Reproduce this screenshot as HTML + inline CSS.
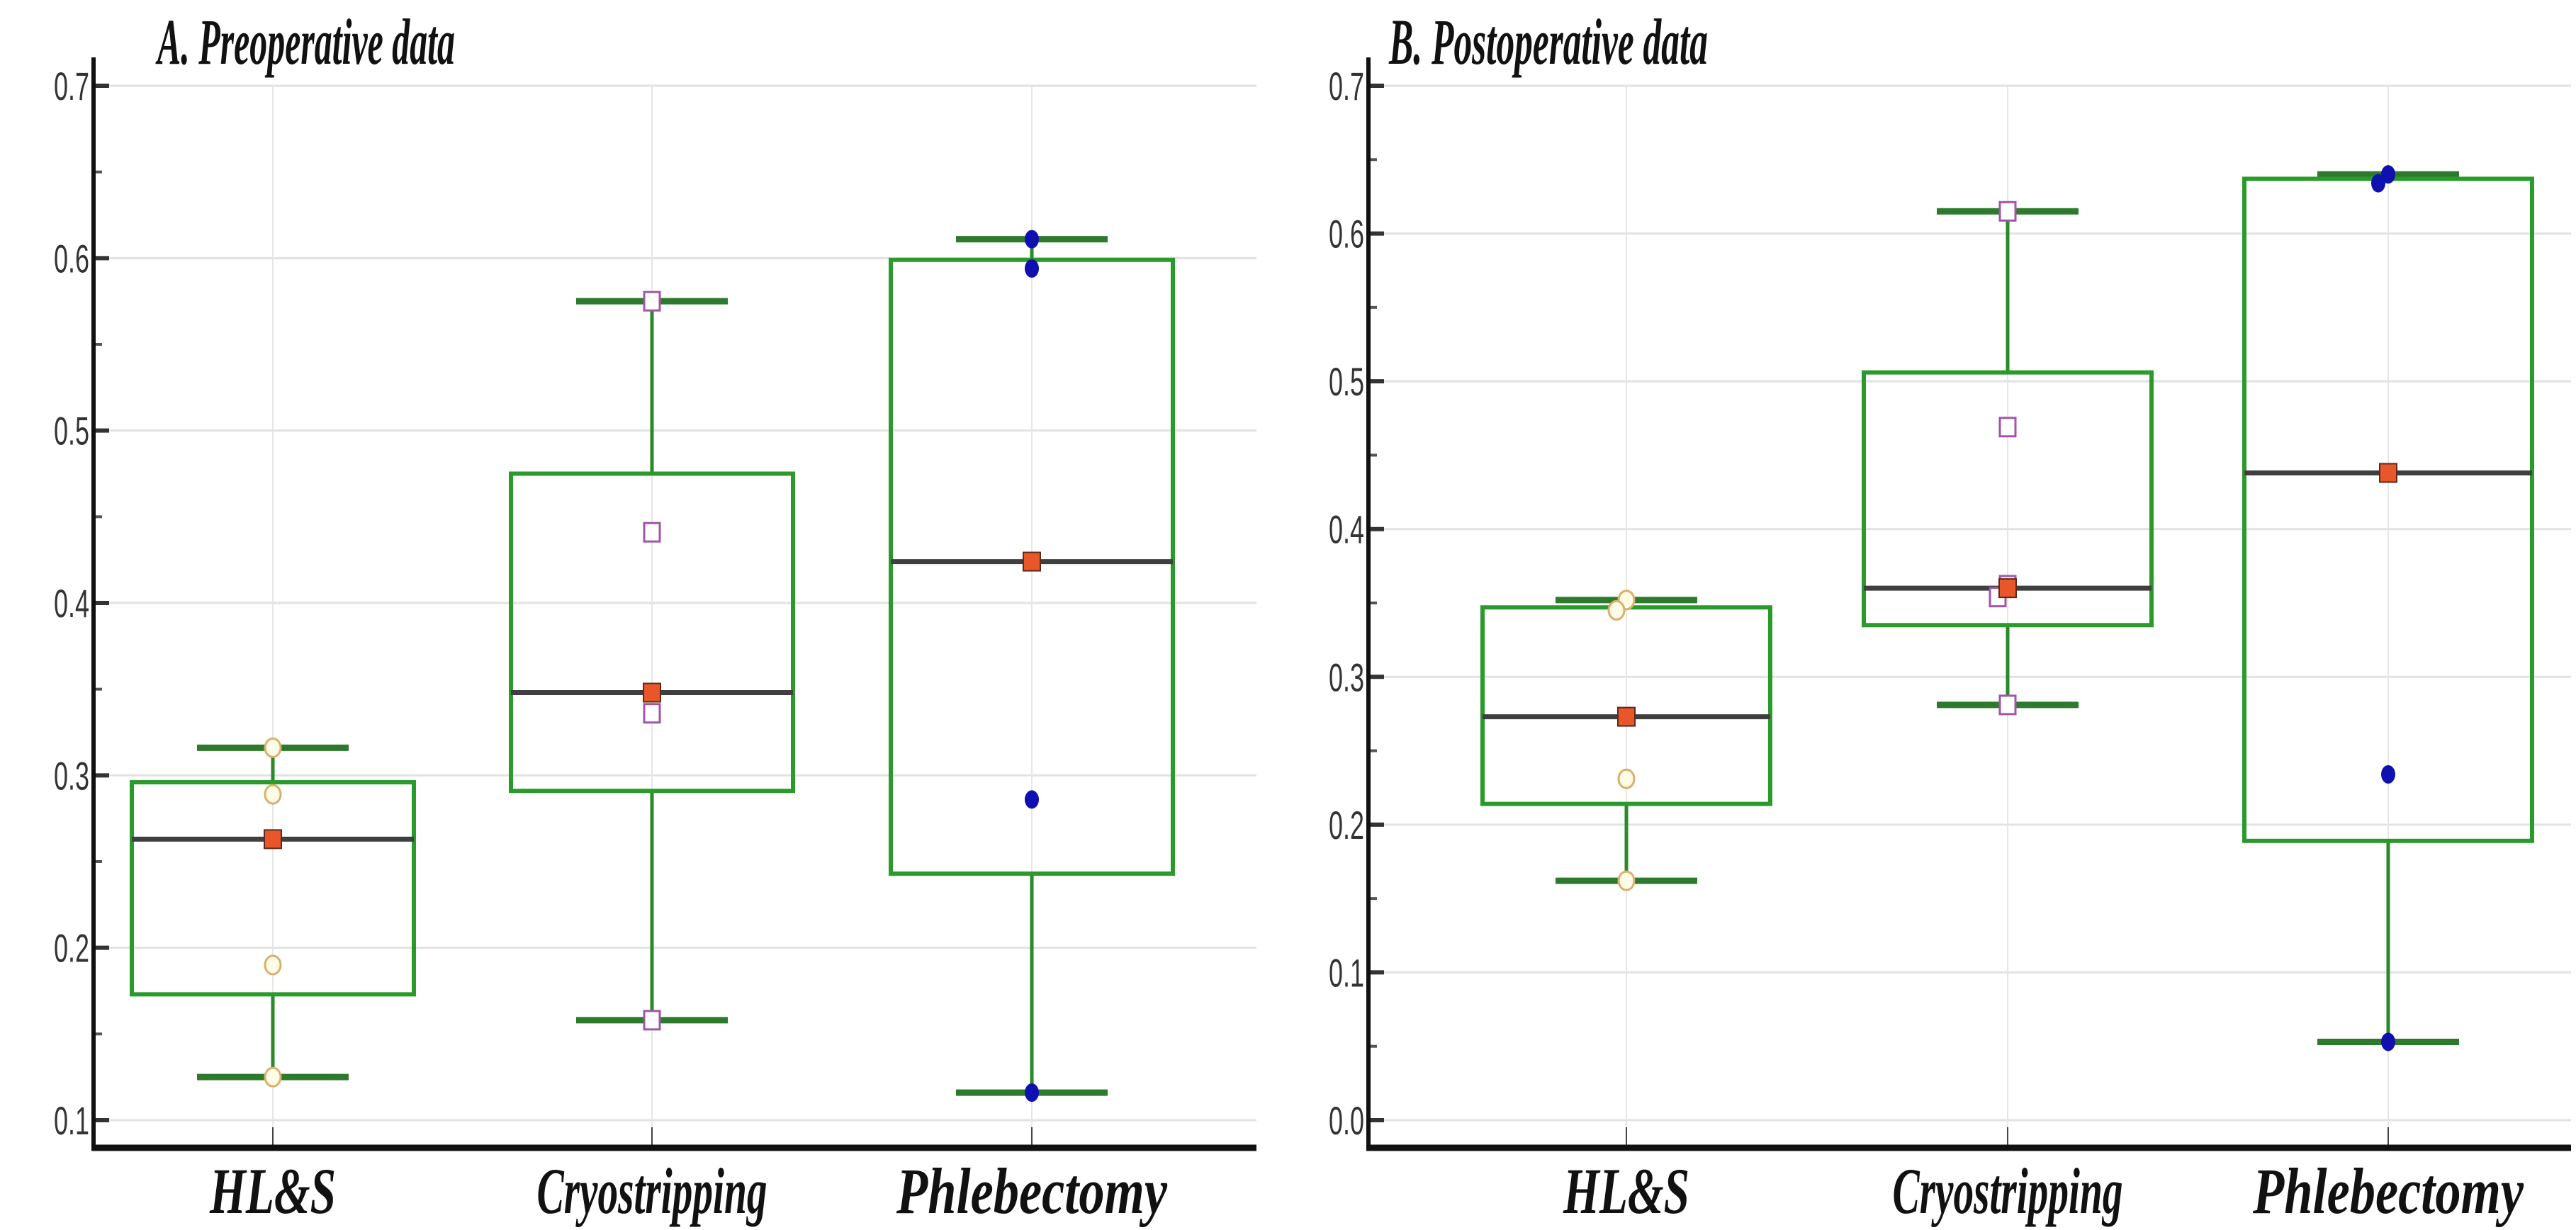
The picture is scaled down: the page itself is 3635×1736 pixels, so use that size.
<!DOCTYPE html>
<html><head><meta charset="utf-8">
<style>html,body{margin:0;padding:0;background:#fff;}svg{display:block;}</style>
</head><body>
<svg id="chart" width="3635" height="1736" viewBox="0 0 3635 1736" xmlns="http://www.w3.org/2000/svg"></svg>
<script>
const categories = ["HL&S", "Cryostripping", "Phlebectomy"];
const preWhiskerLow  = [0.125, 0.158, 0.116];
const preQ1          = [0.173, 0.291, 0.243];
const preMedian      = [0.263, 0.348, 0.424];
const preQ3          = [0.296, 0.475, 0.599];
const preWhiskerHigh = [0.316, 0.575, 0.611];
const prePoints = [[0.316, 0.289, 0.19, 0.125],[0.575, 0.441, 0.336, 0.158],[0.611, 0.594, 0.286, 0.116]];
const postWhiskerLow  = [0.162, 0.281, 0.053];
const postQ1          = [0.214, 0.335, 0.189];
const postMedian      = [0.273, 0.360, 0.438];
const postQ3          = [0.347, 0.506, 0.637];
const postWhiskerHigh = [0.352, 0.615, 0.640];
const postPoints = [[0.352, 0.345, 0.231, 0.162],[0.615, 0.469, 0.362, 0.354, 0.281],[0.640, 0.634, 0.234, 0.053]];
const preTicks = ["0.1","0.2","0.3","0.4","0.5","0.6","0.7"];
const postTicks = ["0.0","0.1","0.2","0.3","0.4","0.5","0.6","0.7"];

const NS = "http://www.w3.org/2000/svg";
const svg = document.getElementById("chart");
function mk(tag, attrs, parent){const e=document.createElementNS(NS,tag);for(const k in attrs)e.setAttribute(k,attrs[k]);(parent||svg).appendChild(e);return e;}

function panel(cfg){
  const g = mk("g",{});
  
  
  const y = v => cfg.yTop + (cfg.vMax - v) / (cfg.vMax - cfg.vMin) * (cfg.yBot - cfg.yTop);
  const xs = cfg.xs;
  cfg.ticks.forEach(t=>{
    const v=parseFloat(t);
    const gl=mk("line",{x1:cfg.axisX,x2:cfg.right,y1:y(v),y2:y(v),stroke:"#e2e2e2","stroke-width":3},g);
    
    
    const tk=mk("line",{x1:cfg.axisX,x2:cfg.axisX+22,y1:y(v),y2:y(v),stroke:"#333","stroke-width":6},g);
    
    
    const tl=mk("text",{x:cfg.axisX-6,y:y(v)+20,"text-anchor":"end","font-family":"Liberation Sans, sans-serif","font-size":56,fill:"#333",textLength:50,lengthAdjust:"spacingAndGlyphs"},g);
    tl.textContent=t;
    
    
    const mv=v+0.05;
    if(mv<cfg.vMax){
      const mt=mk("line",{x1:cfg.axisX,x2:cfg.axisX+12,y1:y(mv),y2:y(mv),stroke:"#555","stroke-width":4},g);
      
      
    }
  });
  xs.forEach(x=>{
    const vl=mk("line",{x1:x,x2:x,y1:cfg.yTop,y2:cfg.axisY,stroke:"#e6e6e6","stroke-width":2},g);
    
    
    const xt=mk("line",{x1:x,x2:x,y1:y(parseFloat(cfg.ticks[0]))+10,y2:cfg.axisY,stroke:"#444","stroke-width":2},g);
    
    
  });
  const ya=mk("line",{x1:cfg.axisX,x2:cfg.axisX,y1:cfg.yTop-40,y2:cfg.axisY,stroke:"#111","stroke-width":6},g);
  
  
  const xa=mk("line",{x1:cfg.axisX-3,x2:cfg.right,y1:cfg.axisY,y2:cfg.axisY,stroke:"#111","stroke-width":9},g);
  
  
  const tt=mk("text",{x:cfg.titleX,y:90,"font-family":"Liberation Serif, serif","font-size":92,"font-weight":"bold","font-style":"italic",fill:"#111",textLength:cfg.titleLen,lengthAdjust:"spacingAndGlyphs"},g);
  tt.textContent=cfg.title;
  
  
  categories.forEach((c,i)=>{
    const x=xs[i];
    const bg=mk("g",{},g);
    
    
    const w1=mk("line",{x1:x,x2:x,y1:y(cfg.wh[i]),y2:y(cfg.q3[i]),stroke:"#2a8a2a","stroke-width":5},bg);
    
    
    const w2=mk("line",{x1:x,x2:x,y1:y(cfg.q1[i]),y2:y(cfg.wl[i]),stroke:"#2a8a2a","stroke-width":5},bg);
    
    
    [cfg.wh[i],cfg.wl[i]].forEach(v=>{
      const cp=mk("line",{x1:x-cfg.cap,x2:x+cfg.cap,y1:y(v),y2:y(v),stroke:"#2d7a2d","stroke-width":9},bg);
      
      
    });
    const r=mk("rect",{x:x-cfg.half,y:y(cfg.q3[i]),width:2*cfg.half,height:y(cfg.q1[i])-y(cfg.q3[i]),fill:"none",stroke:"#2a9a2a","stroke-width":6},bg);
    
    
    const md=mk("line",{x1:x-cfg.half,x2:x+cfg.half,y1:y(cfg.med[i]),y2:y(cfg.med[i]),stroke:"#3f3f3f","stroke-width":7},bg);
    
    
    cfg.pts[i].forEach((v,j)=>{
      let dx=0;
      if(j>0 && Math.abs(v-cfg.pts[i][j-1])<0.012) dx=-14;
      let p;
      if(i===0){
        p=mk("ellipse",{cx:x+dx,cy:y(v),rx:11,ry:13,fill:"#fffbe6",stroke:"#d9b06a","stroke-width":3},bg);
      } else if(i===1){
        p=mk("rect",{x:x+dx-11,y:y(v)-13,width:22,height:26,fill:"#fff",stroke:"#a056a8","stroke-width":3},bg);
      } else {
        p=mk("ellipse",{cx:x+dx,cy:y(v),rx:10,ry:13,fill:"#1010b0"},bg);
      }
      
      
    });
    const mm=mk("rect",{x:x-12,y:y(cfg.med[i])-13,width:24,height:26,fill:"#e8562a",stroke:"#5a2a1a","stroke-width":2},bg);
    
    
    const cl=mk("text",{x:x,y:1712,"text-anchor":"middle","font-family":"Liberation Serif, serif","font-size":92,"font-weight":"bold","font-style":"italic",fill:"#111",textLength:cfg.labLen[i],lengthAdjust:"spacingAndGlyphs"},g);
    cl.textContent=c;
    
    
  });
}

panel({name:"panel-a-preoperative",title:"A. Preoperative data",titleX:222,titleLen:420,
  axisX:132,right:1773,yTop:121,yBot:1581,vMax:0.7,vMin:0.1,axisY:1620,
  xs:[385,920,1456],half:199,cap:107,labLen:[178,325,382],ticks:preTicks,
  wl:preWhiskerLow,q1:preQ1,med:preMedian,q3:preQ3,wh:preWhiskerHigh,pts:prePoints});
panel({name:"panel-b-postoperative",title:"B. Postoperative data",titleX:1960,titleLen:450,
  axisX:1931,right:3628,yTop:121,yBot:1581,vMax:0.7,vMin:0.0,axisY:1620,
  xs:[2295,2833,3370],half:203,cap:100,labLen:[178,325,382],ticks:postTicks,
  wl:postWhiskerLow,q1:postQ1,med:postMedian,q3:postQ3,wh:postWhiskerHigh,pts:postPoints});
</script>
</body></html>
